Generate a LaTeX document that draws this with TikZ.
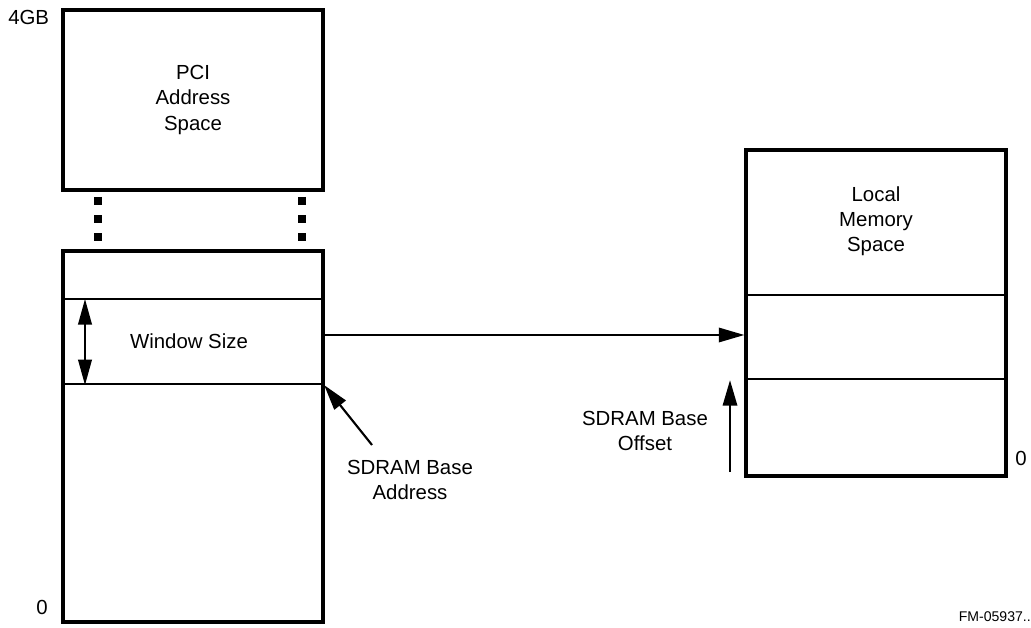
\documentclass[tikz,border=0pt]{standalone}
\usepackage{fontspec}
\setmainfont{Liberation Sans}
\usepackage{tikz}
\usetikzlibrary{arrows.meta, positioning, calc}
\tikzset{
    frame/.style={rectangle, draw=black, line width=2.3pt, minimum width=6.5cm, inner sep=0pt},
    region/.style={rectangle, draw=black, line width=1.6pt, minimum width=6.5cm, inner sep=0pt},
    txt/.style={align=center, font=\fontsize{14.5}{17.8}\selectfont, inner sep=0pt},
    arrow/.style={line width=1.5pt, -{Triangle[length=0.64cm, width=0.36cm]}},
    biarrow/.style={line width=1.5pt, {Triangle[length=0.64cm, width=0.34cm]}-{Triangle[length=0.64cm, width=0.34cm]}},
    gap/.style={line width=0.2cm, dash pattern=on 0.2cm off 0.25cm}
}
\begin{document}
\begin{tikzpicture}[x=0.025cm, y=-0.025cm]
        \useasboundingbox (0,0) rectangle (1031,628);

        % PCI side
        \node[frame, minimum height=4.5cm, txt] (pci) at (193,100) {PCI\\Address\\Space};
        \node[frame, minimum height=9.275cm] (pcilow) at (193,436.5) {};
        \node[region, minimum height=2.125cm] (win) at (193,341.5) {};
        \node[txt] (winlabel) at (189,341) {Window Size};

        % Local side
        \node[frame, minimum height=8.15cm] (local) at (876,313) {};
        \node[region, minimum height=2.1cm] (lwin) at (876,337) {};
        \node[txt] (lmem) at (876,221) {Local\\Memory\\Space};

        % Range marks
        \node[txt, anchor=north west] (top) at (8,10) {4GB};
        \node[txt] (pcizero) at (42,607) {0};
        \node[txt] (localzero) at (1021,458) {0};

        % Gap between the two PCI boxes
        \draw[gap] (98,197) -- (98,243);
        \draw[gap] (302,197) -- (302,243);

        % Window mapping
        \coordinate (wintop) at (85,299);
        \draw[biarrow] (wintop) -- (wintop |- win.south);
        \coordinate (mapsrc) at (323,335);
        \draw[arrow] (mapsrc) -- (mapsrc -| local.west);

        % Base address and offset
        \node[txt] (baseaddr) at (410,480) {SDRAM Base\\Address};
        \coordinate (addrtail) at (372,445);
        \draw[arrow] (addrtail) -- (win.south east);
        \node[txt] (baseoff) at (645,431) {SDRAM Base\\Offset};
        \coordinate (offtail) at (730,472);
        \draw[arrow] (offtail) -- (offtail |- lwin.south);

        \node[font=\fontsize{10}{12}\selectfont, anchor=east, inner sep=0pt] (figid) at (1031,617) {FM-05937..};
\end{tikzpicture}
\end{document}
